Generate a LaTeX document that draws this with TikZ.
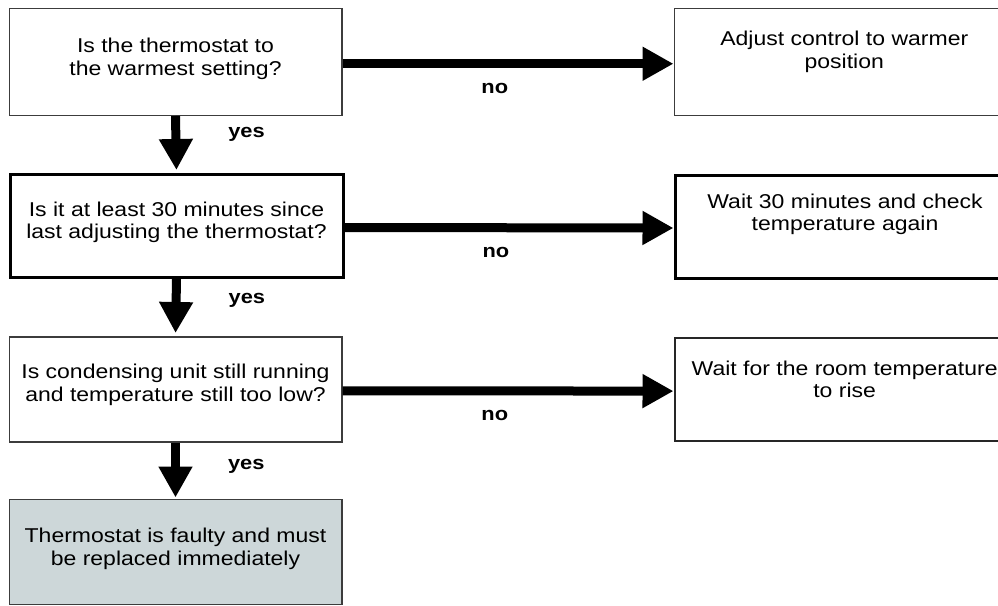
\documentclass[tikz,border=0pt]{standalone}
\usepackage{fontspec}
\setmainfont{Liberation Sans}[FakeStretch=1.15]
\usetikzlibrary{arrows.meta}
\definecolor{edge}{HTML}{3C3C3C}
\definecolor{endfill}{HTML}{CDD7D9}
\begin{document}
\begin{tikzpicture}[x=1pt,y=-1pt,
  box/.style={draw=edge, line width=1.5pt, fill=white, rectangle, inner sep=0pt, anchor=north west},
  strong/.style={draw=black, line width=3pt},
  txt/.style={align=center, font=\fontsize{20}{22.5}\selectfont, inner sep=0pt},
  flow/.style={draw=black, line width=9pt, -{Triangle[width=32pt,length=31pt]}},
  lbl/.style={font=\fontsize{19}{19}\selectfont\bfseries, inner sep=0pt}]
\useasboundingbox[fill=white] (0,0) rectangle (998,605);

% question column
\node[box, minimum width=332.5pt, minimum height=107pt] (q1) at (8.5,7.5) {};
\node[box, strong, minimum width=333pt, minimum height=103pt] (q2) at (8.5,173) {};
\node[box, minimum width=332.5pt, minimum height=105pt] (q3) at (8.5,336) {};
\node[box, fill=endfill, minimum width=332.5pt, minimum height=105pt] (res) at (8.5,498.5) {};

% action column
\node[box, minimum width=340pt, minimum height=107pt] (a1) at (673.5,7.5) {};
\node[box, strong, minimum width=340pt, minimum height=103pt] (a2) at (673.5,173.5) {};
\node[box, line width=2.2pt, draw=black!85, minimum width=340pt, minimum height=103pt] (a3) at (673.5,337) {};

% box texts
\node[txt] (q1t) at ([yshift=3pt]q1.center) {Is the thermostat to\\the warmest setting?};
\node[txt] (q2t) at ([yshift=3.5pt]q2.center) {Is it at least 30 minutes since\\last adjusting the thermostat?};
\node[txt] (q3t) at ([yshift=4.5pt]q3.center) {Is condensing unit still running\\and temperature still too low?};
\node[txt] (rest) at ([yshift=3pt]res.center) {Thermostat is faulty and must\\be replaced immediately};
\node[txt] (a1t) at ([yshift=10pt]a1.center) {Adjust control to warmer\\position};
\node[txt] (a2t) at ([yshift=12pt]a2.center) {Wait 30 minutes and check\\temperature again};
\node[txt] (a3t) at ([yshift=10.5pt]a3.center) {Wait for the room temperature\\to rise};

% yes branches
\draw[flow, shorten >=3pt] (q1.south) -- node[lbl, anchor=west, pos=0.32, xshift=48pt] (y1) {yes} (q2.north);
\draw[flow, shorten >=3pt] (q2.south) -- node[lbl, anchor=west, pos=0.38, xshift=48pt] (y2) {yes} (q3.north);
\draw[flow, shorten >=1pt] (q3.south) -- node[lbl, anchor=west, pos=0.42, xshift=48pt] (y3) {yes} (res.north);

% no branches
\draw[flow] ([yshift=-2pt]q1.east) -- node[lbl, below=15pt, pos=0.46] (n1) {no} ([yshift=-2pt]a1.west);
\draw[flow] ([yshift=-1.5pt]q2.east) -- node[lbl, below=15pt, pos=0.46] (n2) {no} ([yshift=-1.5pt]a2.west);
\draw[flow] ([yshift=-1.5pt]q3.east) -- node[lbl, below=15pt, pos=0.46] (n3) {no} ([yshift=-1.5pt]a3.west);
\end{tikzpicture}
\end{document}
